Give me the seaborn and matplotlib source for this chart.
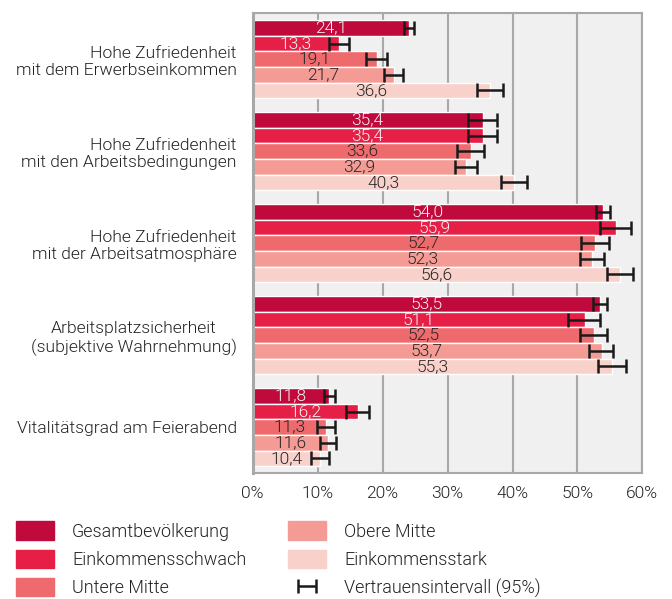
import numpy as np
import pandas as pd

import matplotlib
matplotlib.use("Agg")
import matplotlib.pyplot as plt
import seaborn as sns

# ==================================================
# DATA
# ==================================================

CATEGORIES = [
    "Hohe Zufriedenheit\nmit dem Erwerbseinkommen",
    "Hohe Zufriedenheit\nmit den Arbeitsbedingungen",
    "Hohe Zufriedenheit\nmit der Arbeitsatmosphäre",
    "Arbeitsplatzsicherheit\n(subjektive Wahrnehmung)",
    "Vitalitätsgrad am Feierabend",
]

GROUPS = [
    "Gesamtbevölkerung",
    "Einkommensschwach",
    "Untere Mitte",
    "Obere Mitte",
    "Einkommensstark",
]

gesamt = [24.1, 35.4, 54.0, 53.5, 11.8]
schwach = [13.3, 35.4, 55.9, 51.1, 16.2]
untere = [19.1, 33.6, 52.7, 52.5, 11.3]
obere = [21.7, 32.9, 52.3, 53.7, 11.6]
stark = [36.6, 40.3, 56.6, 55.3, 10.4]

# 95% confidence interval bounds
gesamt_low = [23.3, 33.2, 52.9, 52.4, 11.0]
gesamt_high = [24.9, 37.6, 55.0, 54.5, 12.6]
schwach_low = [11.7, 33.2, 53.5, 48.6, 14.4]
schwach_high = [14.9, 37.6, 58.2, 53.4, 17.9]
untere_low = [17.4, 31.5, 50.6, 50.4, 9.9]
untere_high = [20.7, 35.6, 54.8, 54.6, 12.7]
obere_low = [20.2, 31.2, 50.4, 51.8, 10.4]
obere_high = [23.2, 34.6, 54.1, 55.5, 12.9]
stark_low = [34.6, 38.2, 54.5, 53.2, 9.0]
stark_high = [38.5, 42.2, 58.6, 57.4, 11.7]

X_TICKS = [0, 10, 20, 30, 40, 50, 60]

# ==================================================
# STYLE
# ==================================================

COLORS = ["#C00A3C", "#E61F46", "#EE6A6C", "#F39B94", "#F9D1CB"]
LABEL_COLORS = ["#F4F4F4", "#F4F4F4", "#262626", "#262626", "#262626"]
TEXT = "#222222"
GRID = "#A8A8A8"
WEIGHT = 300

sns.set_theme(style="white")
plt.rcParams["font.family"] = ["Roboto", "DejaVu Sans"]
plt.rcParams["font.weight"] = WEIGHT
plt.rcParams["text.color"] = TEXT

values = [gesamt, schwach, untere, obere, stark]
lows = [gesamt_low, schwach_low, untere_low, obere_low, stark_low]
highs = [gesamt_high, schwach_high, untere_high, obere_high, stark_high]

df = pd.DataFrame({
    "Kategorie": np.repeat(CATEGORIES, len(GROUPS)),
    "Gruppe": GROUPS * len(CATEGORIES),
    "Wert": [values[g][c] for c in range(len(CATEGORIES)) for g in range(len(GROUPS))],
})

# ==================================================
# PLOT
# ==================================================

fig = plt.figure(figsize=(6.72, 5.99), dpi=100)
ax = fig.add_axes([0.376, 0.210, 0.580, 0.768])
ax.set_facecolor("#F0F0F0")

sns.barplot(
    data=df,
    x="Wert",
    y="Kategorie",
    hue="Gruppe",
    order=CATEGORIES,
    hue_order=GROUPS,
    palette=COLORS,
    width=0.845,
    errorbar=None,
    saturation=1,
    orient="h",
    legend=False,
    ax=ax,
    zorder=2,
)

bar_containers = list(ax.containers)

err_handle = None
for i, container in enumerate(bar_containers):
    centers = [p.get_y() + p.get_height() / 2 for p in container.patches]
    v = np.array(values[i])
    err = [v - np.array(lows[i]), np.array(highs[i]) - v]
    eb = ax.errorbar(
        v, centers, xerr=err, fmt="none",
        ecolor="#1A1A1A", elinewidth=1.8, capsize=5, capthick=1.8,
        zorder=4,
    )
    if err_handle is None:
        err_handle = eb
    labels = [f"{x:.1f}".replace(".", ",") for x in values[i]]
    ax.bar_label(
        container, labels=labels, label_type="center",
        color=LABEL_COLORS[i], fontsize=12.5, fontweight=WEIGHT,
        padding=0, zorder=5,
    )

ax.set_xlim(0, 60)
ax.set_ylim(len(CATEGORIES) - 0.5, -0.5)
ax.set_xticks(X_TICKS)
ax.set_xticklabels([f"{t}%" for t in X_TICKS])
ax.xaxis.grid(True, color=GRID, linewidth=1.5, zorder=0)
ax.set_axisbelow(True)
ax.set_xlabel("")
ax.set_ylabel("")

ax.tick_params(axis="x", length=4, width=1.5, color=GRID,
               labelsize=12.5, labelcolor=TEXT, pad=5)
ax.tick_params(axis="y", length=0, labelsize=12.6, labelcolor=TEXT, pad=11.5)

for lbl in ax.get_yticklabels():
    if lbl.get_text().startswith("Arbeitsplatz"):
        lbl.set_multialignment("center")
    else:
        lbl.set_multialignment("right")

for side in ["top", "right", "bottom", "left"]:
    ax.spines[side].set_visible(True)
    ax.spines[side].set_color(GRID)
    ax.spines[side].set_linewidth(1.5)
ax.spines["left"].set_linewidth(2.2)

# ==================================================
# LEGEND
# ==================================================

handles = [plt.Rectangle((0, 0), 1, 1, color=c) for c in COLORS]
handles.append(err_handle)
leg_labels = GROUPS + ["Vertrauensintervall (95%)"]

fig.legend(
    handles, leg_labels,
    loc="upper left",
    bbox_to_anchor=(0.0, 0.157),
    ncol=2,
    frameon=False,
    fontsize=13,
    handlelength=2.1,
    handleheight=1.2,
    handletextpad=1.0,
    labelspacing=0.5,
    columnspacing=2.3,
)

plt.savefig("out.png", dpi=100)
